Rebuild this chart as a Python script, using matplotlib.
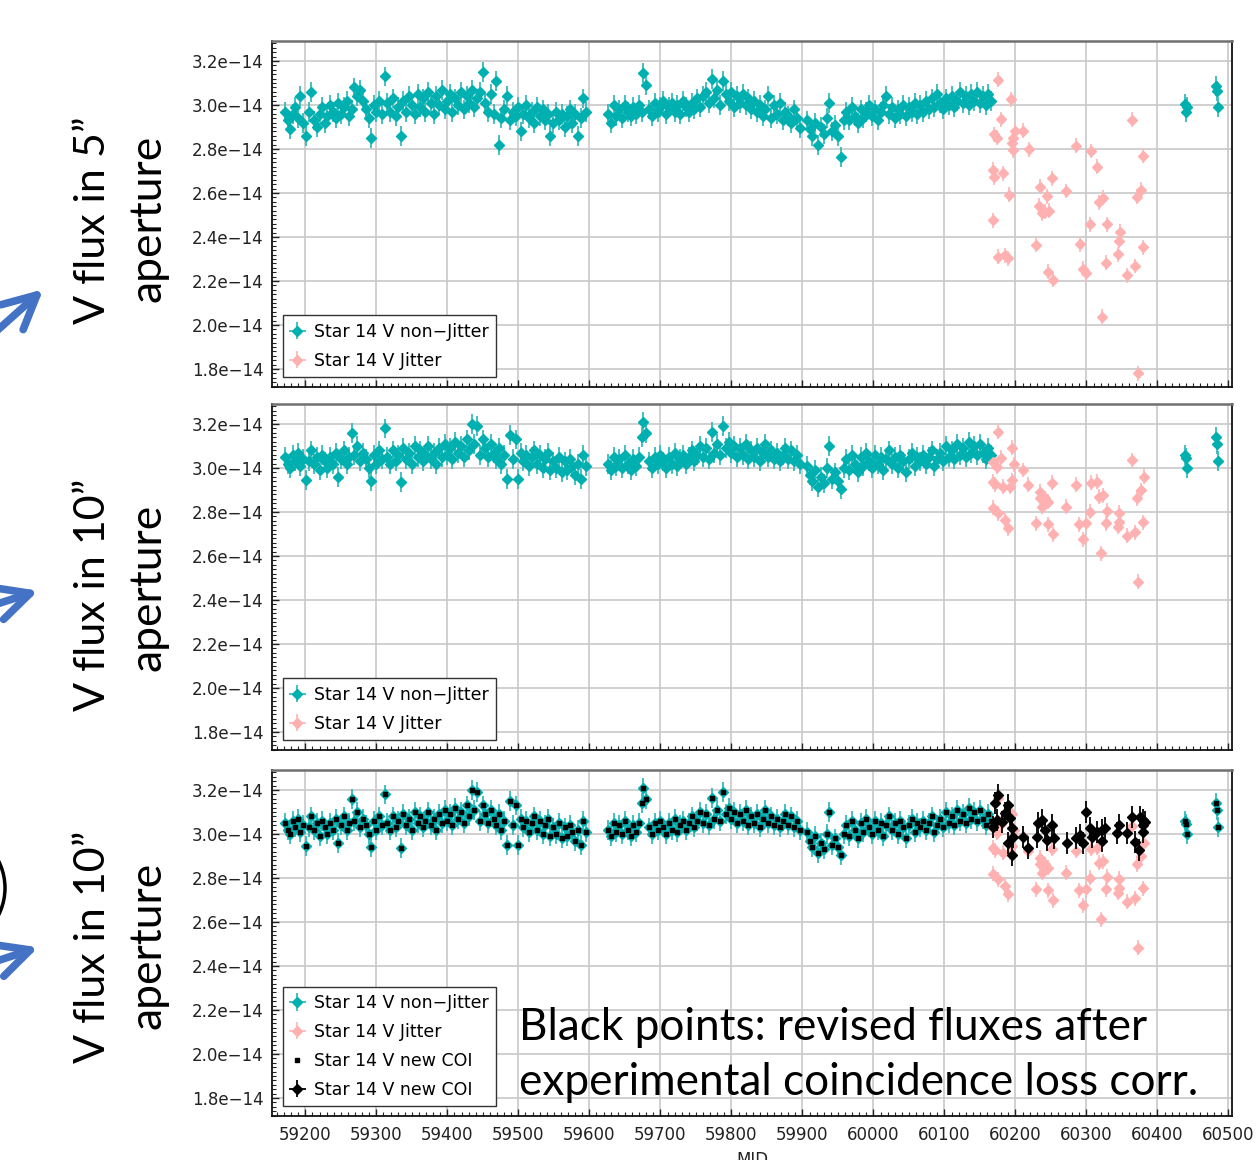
import numpy as np
import matplotlib
matplotlib.use("Agg")
import matplotlib.pyplot as plt
from matplotlib.ticker import MultipleLocator, FuncFormatter
from matplotlib.patches import FancyArrowPatch, Circle
from matplotlib.transforms import IdentityTransform

SCALE = 1e-14  # fluxes below are in units of 1e-14

# ---------------- non-jitter epochs (MJD) ----------------
cyan_mjd = [
    59172, 59175, 59178, 59182, 59186, 59190, 59193, 59197, 59201, 59205,
    59208, 59212, 59216, 59220, 59224, 59227, 59231, 59235, 59239, 59243,
    59246, 59250, 59254, 59258, 59262, 59266, 59269, 59273, 59277, 59281,
    59285, 59289, 59292, 59296, 59300, 59304, 59308, 59312, 59315, 59319,
    59323, 59327, 59331, 59335, 59338, 59342, 59346, 59350, 59354, 59358,
    59361, 59365, 59369, 59373, 59377, 59381, 59384, 59388, 59392, 59396,
    59400, 59404, 59407, 59411, 59415, 59419, 59423, 59427, 59430, 59434,
    59438, 59442, 59446, 59450, 59453, 59457, 59461, 59465, 59469, 59473,
    59476, 59480, 59484, 59488, 59492, 59496, 59499, 59503, 59507, 59511,
    59515, 59519, 59522, 59526, 59530, 59534, 59538, 59542, 59545, 59549,
    59553, 59557, 59561, 59565, 59568, 59572, 59576, 59580, 59584, 59588,
    59591, 59595,
    59626, 59630, 59634, 59638, 59642, 59646, 59650, 59654, 59658, 59662,
    59666, 59670, 59674, 59676, 59680, 59684, 59688, 59692, 59696, 59700,
    59704, 59708, 59712, 59716, 59720, 59724, 59728, 59732, 59736, 59740,
    59744, 59748, 59752, 59756, 59760, 59764, 59768, 59772, 59776, 59780,
    59784, 59788, 59792, 59796, 59800, 59804, 59808, 59812, 59816, 59820,
    59824, 59828, 59832, 59836, 59840, 59844, 59848, 59852, 59856, 59860,
    59864, 59868, 59872, 59876, 59880, 59884, 59888, 59892, 59897,
    59906, 59910, 59914, 59918, 59922, 59926, 59930, 59934, 59938, 59942,
    59946, 59950, 59954, 59958, 59962, 59966, 59970, 59974, 59978, 59982,
    59986, 59990, 59994, 59998, 60002, 60006, 60010, 60014, 60018, 60022,
    60026, 60030, 60034, 60038, 60042, 60046, 60050, 60054, 60058, 60062,
    60066, 60070, 60074, 60078, 60082, 60086, 60090, 60094, 60098, 60102,
    60106, 60110, 60114, 60118, 60122, 60126, 60130, 60134, 60138, 60142,
    60146, 60150, 60154, 60158, 60162, 60165,
    60439, 60440, 60441, 60483, 60484, 60485,
]

# V flux, 5" aperture, non-jitter
flux5_cyan = [
    2.97, 2.93, 2.89, 2.96, 2.99, 2.94, 3.04, 2.92, 2.86, 2.97,
    3.06, 2.93, 2.90, 2.96, 2.99, 2.92, 2.95, 3.00, 2.97, 2.94,
    3.01, 2.96, 2.99, 3.02, 2.95, 2.98, 3.08, 3.04, 3.07, 3.02,
    2.98, 2.94, 2.85, 3.00, 2.97, 3.02, 2.96, 3.13, 3.01, 2.97,
    3.03, 2.95, 2.99, 2.86, 3.02, 2.97, 3.04, 3.00, 2.96, 3.05,
    2.99, 3.03, 2.97, 3.06, 3.01, 2.96, 3.04, 3.00, 3.07, 2.98,
    3.02, 3.05, 2.97, 3.03, 3.00, 3.06, 2.98, 3.04, 3.01, 3.07,
    2.99, 3.03, 3.06, 3.15, 3.01, 2.97, 3.05, 2.96, 3.11, 2.82,
    2.94, 2.98, 3.04, 2.93, 2.97, 2.95, 2.99, 2.88, 2.96, 3.00,
    2.94, 2.97, 2.92, 2.99, 2.95, 2.98, 2.93, 2.96, 2.86, 2.92,
    2.97, 2.93, 2.96, 2.90, 2.95, 2.98, 2.92, 2.96, 2.86, 2.94,
    3.03, 2.97,
    2.96, 2.92, 3.00, 2.95, 2.98, 2.94, 3.00, 2.97, 2.95, 2.99,
    2.96, 3.00, 2.97, 3.145, 3.09, 2.98, 2.95, 3.01, 2.97, 2.99,
    3.02, 2.96, 2.99, 3.01, 2.97, 3.00, 2.96, 3.02, 2.99, 2.97,
    3.01, 2.98, 3.03, 2.99, 3.04, 3.06, 3.01, 3.12, 3.03, 3.07,
    3.00, 3.11, 3.05, 3.02, 3.06, 2.99, 3.04, 3.01, 3.05, 3.00,
    3.03, 2.98, 3.02, 2.97, 3.00, 2.95, 2.98, 3.04, 2.94, 3.00,
    2.96, 3.01, 2.93, 2.97, 2.95, 2.92, 2.98, 2.94, 2.895,
    2.93, 2.89, 2.86, 2.92, 2.82, 2.90, 2.87, 2.94, 3.01, 2.88,
    2.91, 2.86, 2.765, 2.93, 2.97, 2.93, 2.99, 2.95, 2.92, 2.98,
    2.94, 2.97, 3.00, 2.95, 2.98, 2.93, 2.97, 3.00, 3.04, 2.96,
    2.99, 2.94, 2.98, 2.96, 3.00, 2.95, 2.99, 2.97, 3.01, 2.96,
    3.00, 2.97, 3.02, 2.98, 3.03, 2.99, 3.05, 3.01, 2.98, 3.03,
    3.00, 3.04, 2.99, 3.02, 3.06, 3.01, 3.04, 3.00, 3.05, 3.02,
    3.06, 3.01, 3.04, 3.00, 3.05, 3.02,
    3.003, 2.970, 2.990, 3.086, 3.064, 2.992,
]

# V flux, 10" aperture, non-jitter
flux10_cyan = [
    3.05, 3.02, 3.00, 3.06, 3.03, 3.07, 3.01, 3.04, 2.945, 3.03,
    3.08, 3.02, 3.05, 2.99, 3.06, 3.03, 3.00, 3.05, 3.02, 3.07,
    2.96, 3.04, 3.08, 3.02, 3.05, 3.16, 3.06, 3.10, 3.03, 3.07,
    3.04, 3.00, 2.94, 3.06, 3.02, 3.08, 3.04, 3.18, 3.05, 3.02,
    3.08, 3.03, 3.06, 2.935, 3.09, 3.04, 3.07, 3.02, 3.10, 3.05,
    3.08, 3.03, 3.06, 3.10, 3.04, 3.07, 3.02, 3.09, 3.05, 3.11,
    3.06, 3.09, 3.04, 3.12, 3.07, 3.10, 3.05, 3.13, 3.08, 3.20,
    3.11, 3.19, 3.06, 3.13, 3.09, 3.05, 3.11, 3.07, 3.04, 3.09,
    3.02, 3.06, 2.95, 3.15, 3.04, 3.13, 2.95, 3.07, 3.03, 3.06,
    3.01, 3.05, 3.08, 3.02, 3.06, 3.00, 3.04, 3.07, 2.99, 3.03,
    3.00, 3.05, 2.98, 3.03, 2.99, 3.04, 3.01, 2.97, 3.02, 2.95,
    3.06, 3.01,
    3.02, 2.99, 3.05, 3.01, 3.04, 3.00, 3.06, 3.02, 2.99, 3.04,
    3.01, 3.05, 3.14, 3.21, 3.16, 3.03, 3.00, 3.05, 3.02, 3.06,
    3.03, 3.00, 3.05, 3.02, 3.07, 3.01, 3.04, 3.06, 3.02, 3.05,
    3.08, 3.03, 3.06, 3.10, 3.05, 3.09, 3.04, 3.165, 3.07, 3.11,
    3.06, 3.19, 3.09, 3.12, 3.07, 3.10, 3.05, 3.09, 3.06, 3.11,
    3.04, 3.08, 3.05, 3.09, 3.03, 3.07, 3.11, 3.05, 3.08, 3.04,
    3.07, 3.03, 3.06, 3.09, 3.04, 3.08, 3.03, 3.06, 3.02,
    3.01, 2.97, 2.94, 2.99, 2.915, 2.96, 2.93, 3.00, 3.10, 2.95,
    2.98, 2.94, 2.905, 3.00, 3.04, 2.99, 3.06, 3.02, 2.98, 3.05,
    3.01, 3.07, 3.03, 3.00, 3.06, 3.02, 3.05, 2.99, 3.04, 3.08,
    3.02, 3.05, 3.00, 3.06, 3.03, 2.98, 3.04, 3.07, 3.01, 3.05,
    3.03, 3.06, 3.02, 3.05, 3.08, 3.01, 3.04, 3.07, 3.03, 3.10,
    3.05, 3.08, 3.04, 3.11, 3.06, 3.09, 3.05, 3.12, 3.07, 3.10,
    3.06, 3.11, 3.07, 3.04, 3.09, 3.06,
    3.059, 3.044, 3.001, 3.142, 3.108, 3.032,
]

# ---------------- jitter epochs ----------------
pink5_mjd = [
    60175, 60194, 60179, 60170, 60174, 60199, 60197, 60195, 60196, 60211,
    60219, 60169, 60170, 60182, 60191, 60168, 60176, 60185, 60190, 60235,
    60251, 60244, 60233, 60237, 60242, 60247, 60229, 60246, 60253, 60271,
    60286, 60291, 60295, 60300, 60307, 60305, 60315, 60318, 60324, 60329,
    60327, 60322, 60344, 60346, 60347, 60357, 60364, 60368, 60371, 60377,
    60380, 60379, 60373,
]
pink5_flux = [
    3.114, 3.026, 2.935, 2.867, 2.851, 2.883, 2.851, 2.826, 2.795, 2.883,
    2.798, 2.705, 2.671, 2.689, 2.591, 2.477, 2.310, 2.318, 2.303, 2.629,
    2.667, 2.586, 2.542, 2.508, 2.515, 2.520, 2.364, 2.241, 2.205, 2.609,
    2.814, 2.368, 2.255, 2.235, 2.791, 2.458, 2.720, 2.558, 2.579, 2.458,
    2.283, 2.038, 2.321, 2.382, 2.424, 2.227, 2.932, 2.268, 2.583, 2.614,
    2.770, 2.353, 1.780,
]
pink10_mjd = [
    60175, 60169, 60174, 60179, 60195, 60198, 60169, 60171, 60182, 60192,
    60195, 60168, 60176, 60185, 60189, 60211, 60218, 60229, 60234, 60235,
    60237, 60242, 60246, 60246, 60251, 60253, 60271, 60286, 60290, 60295,
    60300, 60305, 60307, 60315, 60318, 60324, 60320, 60328, 60329, 60344,
    60346, 60346, 60357, 60364, 60368, 60371, 60373, 60377, 60379, 60381,
]
pink10_flux = [
    3.165, 3.029, 3.006, 3.047, 3.092, 3.017, 2.938, 2.926, 2.915, 2.915,
    2.945, 2.820, 2.794, 2.764, 2.726, 2.991, 2.923, 2.749, 2.892, 2.862,
    2.824, 2.862, 2.847, 2.744, 2.933, 2.699, 2.824, 2.923, 2.744, 2.677,
    2.749, 2.801, 2.933, 2.938, 2.870, 2.877, 2.612, 2.749, 2.805, 2.733,
    2.797, 2.756, 2.692, 3.036, 2.708, 2.862, 2.483, 2.900, 2.753, 2.960,
]

# revised (new COI) fluxes for the jitter epochs, 10" aperture
coi_mjd = [
    60171, 60176, 60174, 60169, 60181, 60185, 60190, 60192, 60195, 60190,
    60195, 60197, 60211, 60218, 60231, 60232, 60238, 60242, 60245, 60252,
    60254, 60272, 60286, 60291, 60295, 60300, 60305, 60308, 60315, 60322,
    60322, 60326, 60343, 60346, 60357, 60364, 60369, 60374, 60376, 60380,
    60380, 60383, 60379,
]
coi_flux = [
    3.141, 3.177, 3.064, 3.032, 3.055, 3.095, 3.132, 3.073, 3.027, 2.959,
    2.905, 2.986, 2.986, 2.936, 2.986, 3.050, 3.064, 3.018, 2.973, 3.041,
    2.982, 2.959, 2.982, 2.995, 2.959, 3.100, 3.027, 2.986, 3.009, 3.018,
    2.968, 3.027, 3.005, 3.041, 3.005, 3.077, 2.964, 2.927, 3.077, 3.064,
    3.009, 3.055, 3.041,
]

err_cyan, err_pink, err_coi = 0.045, 0.034, 0.05
xerr_days = 5

assert len(cyan_mjd) == len(flux5_cyan) == len(flux10_cyan)
assert len(pink5_mjd) == len(pink5_flux)
assert len(pink10_mjd) == len(pink10_flux)
assert len(coi_mjd) == len(coi_flux)

CYAN = "#00afaf"
CYAN_E = "#33bcbc"
PINK = "#ffb0b0"
PINK_E = "#ffbaba"

W_PX, H_PX = 1258, 1160
fig = plt.figure(figsize=(W_PX / 100, H_PX / 100), dpi=100)

left, width, height = 272 / W_PX, 960 / W_PX, 346 / H_PX
tops = [41, 404, 770]
axes = [fig.add_axes([left, 1 - (t + 346) / H_PX, width, height]) for t in tops]


def sci(v, pos):
    return f"{v / SCALE:.1f}e\u221214"


def style(ax, show_x):
    ax.set_xlim(59153, 60505)
    ax.set_ylim(1.718 * SCALE, 3.291 * SCALE)
    ax.xaxis.set_major_locator(MultipleLocator(100))
    ax.xaxis.set_minor_locator(MultipleLocator(10))
    ax.yaxis.set_major_locator(MultipleLocator(0.2 * SCALE))
    ax.yaxis.set_minor_locator(MultipleLocator(0.02 * SCALE))
    ax.yaxis.set_major_formatter(FuncFormatter(sci))
    ax.grid(True, which="major", color="#c8c8c8", lw=1.2)
    ax.set_axisbelow(True)
    ax.tick_params(which="both", direction="in", top=False, right=False,
                   labelsize=12, colors="#222222")
    ax.tick_params(which="major", length=5, width=1)
    ax.tick_params(which="minor", length=3, width=0.8)
    ax.tick_params(axis="y", pad=6)
    ax.tick_params(axis="x", pad=7, labelbottom=show_x)
    for s in ("left", "right", "bottom"):
        ax.spines[s].set_color("#111111")
        ax.spines[s].set_linewidth(1.3)
    ax.spines["top"].set_color("#707070")
    ax.spines["top"].set_linewidth(1.8)


def eb(ax, x, y, err, color, ecolor, label, ms=4.8, lw=1.3, z=2):
    return ax.errorbar(x, np.asarray(y) * SCALE, yerr=err * SCALE, xerr=xerr_days,
                       fmt="D", ms=ms, color=color, mfc=color, mec=color,
                       ecolor=ecolor, elinewidth=lw, capsize=0, label=label,
                       zorder=z)


def legend(ax, handles):
    leg = ax.legend(handles=handles, loc="lower left",
                    bbox_to_anchor=(11 / 960, 10 / 346),
                    borderaxespad=0, fontsize=12.5, frameon=True, fancybox=False,
                    edgecolor="#333333", framealpha=1, handlelength=0.8,
                    handletextpad=0.55, labelspacing=0.63, borderpad=0.42)
    leg.get_frame().set_linewidth(1.0)
    return leg


LAB_NJ = "Star 14 V non\u2212Jitter"
LAB_J = "Star 14 V Jitter"
LAB_COI = "Star 14 V new COI"

# panel 1: 5" aperture
ax = axes[0]
style(ax, False)
h1 = eb(ax, cyan_mjd, flux5_cyan, err_cyan, CYAN, CYAN_E, LAB_NJ)
h2 = eb(ax, pink5_mjd, pink5_flux, err_pink, PINK, PINK_E, LAB_J)
legend(ax, [h1, h2])

# panel 2: 10" aperture
ax = axes[1]
style(ax, False)
h1 = eb(ax, cyan_mjd, flux10_cyan, err_cyan, CYAN, CYAN_E, LAB_NJ)
h2 = eb(ax, pink10_mjd, pink10_flux, err_pink, PINK, PINK_E, LAB_J)
legend(ax, [h1, h2])

# panel 3: 10" aperture with revised fluxes
ax = axes[2]
style(ax, True)
h1 = eb(ax, cyan_mjd, flux10_cyan, err_cyan, CYAN, CYAN_E, LAB_NJ)
h2 = eb(ax, pink10_mjd, pink10_flux, err_pink, PINK, PINK_E, LAB_J)
h3, = ax.plot(cyan_mjd, np.asarray(flux10_cyan) * SCALE, ls="none", marker="s",
              ms=2.3, color="black", label=LAB_COI, zorder=4)
h4 = eb(ax, coi_mjd, coi_flux, err_coi, "black", "#111111", LAB_COI,
        ms=5.0, lw=1.4, z=5)
ax.set_xlabel("MJD", fontsize=12, labelpad=5, color="#222222")
legend(ax, [h1, h2, h3, h4])

# side labels
FONT = "Lato"
labels = ["V flux in 5\u201d", "V flux in 10\u201d", "V flux in 10\u201d"]
centers1 = [220, 595, 947]
centers2 = [218, 587, 945]
for lab, c1, c2 in zip(labels, centers1, centers2):
    fig.text(105 / W_PX, 1 - c1 / H_PX, lab, rotation=90, rotation_mode="anchor",
             ha="center", va="baseline", fontsize=31, family=FONT, color="black")
    fig.text(161 / W_PX, 1 - c2 / H_PX, "aperture", rotation=90,
             rotation_mode="anchor", ha="center", va="baseline", fontsize=32,
             family=FONT, color="black")

# annotation text
fig.text(519 / W_PX, 1 - 1040 / H_PX, "Black points: revised fluxes after",
         fontsize=31.8, family=FONT, va="baseline", ha="left", color="black")
fig.text(519 / W_PX, 1 - 1095 / H_PX, "experimental coincidence loss corr.",
         fontsize=31.8, family=FONT, va="baseline", ha="left", color="black")

# blue arrows from the left edge (display pixel coords, y up)
arrow_tips = [(43.3, H_PX - 289.3), (38.3, H_PX - 590.7), (38.3, H_PX - 947.3)]
arrow_tails = [(-21.7, H_PX - 347.3), (-19.2, H_PX - 609.2), (-19.2, H_PX - 966.3)]
for tail, tip in zip(arrow_tails, arrow_tips):
    arr = FancyArrowPatch(posA=tail, posB=tip,
                          arrowstyle="->,head_length=1.2,head_width=0.6",
                          mutation_scale=20, lw=5.5, color="#4472c4",
                          shrinkA=0, shrinkB=0, capstyle="round",
                          joinstyle="round", transform=IdentityTransform())
    fig.add_artist(arr)

# partial circle at lower-left edge
circ = Circle((-55, H_PX - 888), 60, fill=False, lw=2.5, edgecolor="black",
              transform=IdentityTransform())
fig.add_artist(circ)

fig.savefig("out.png", dpi=100)
